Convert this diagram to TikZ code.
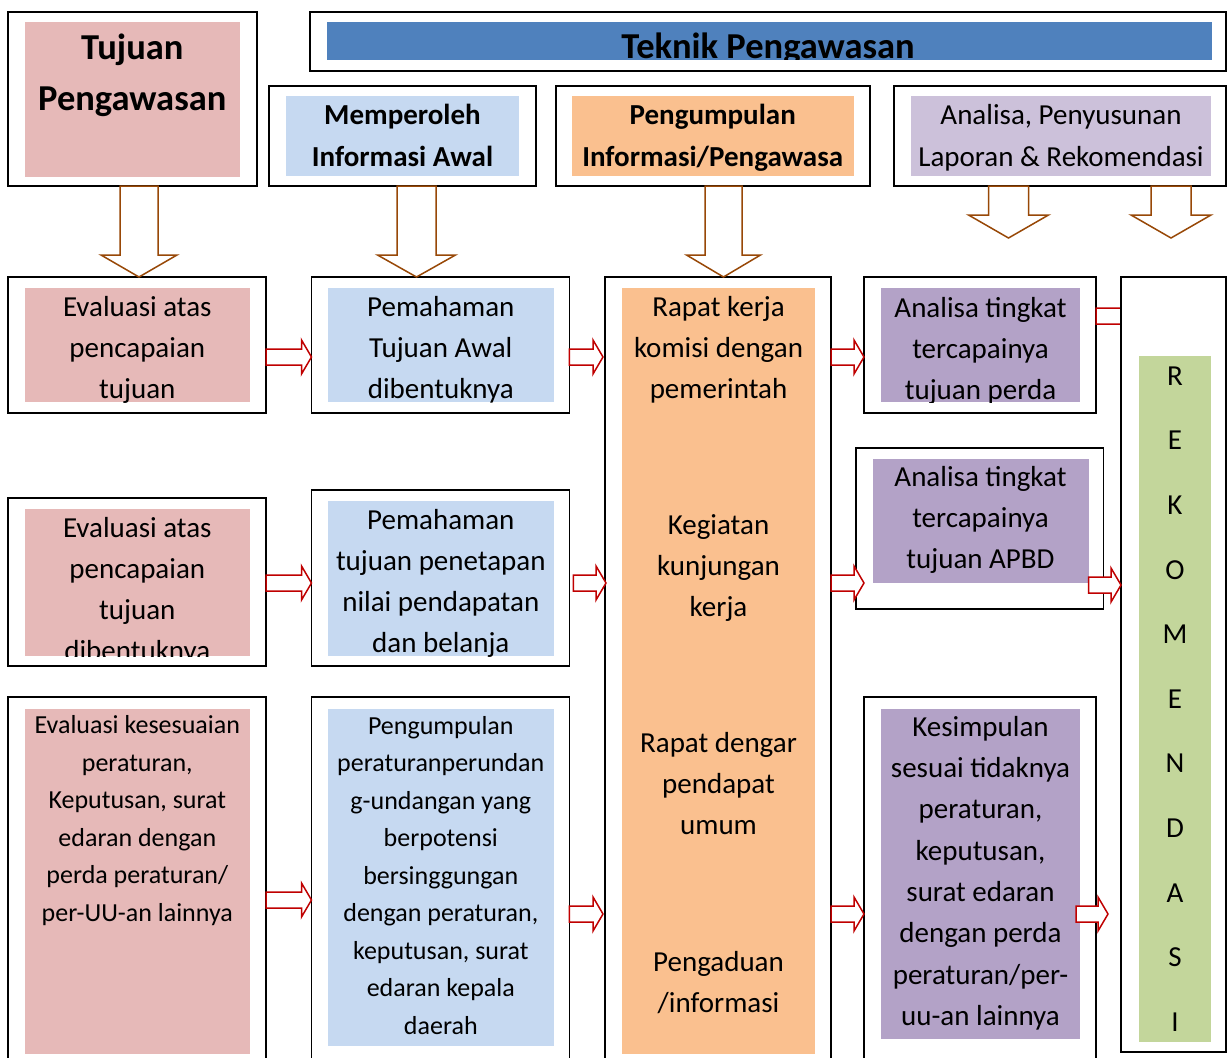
\documentclass[tikz,border=0pt]{standalone}
\usepackage{fontspec}
\setmainfont{Carlito}
\usetikzlibrary{calc}

\definecolor{pinkc}{HTML}{E6B9B8}
\definecolor{bluec}{HTML}{C6D9F1}
\definecolor{orangec}{HTML}{FAC08F}
\definecolor{lavc}{HTML}{CCC1DA}
\definecolor{purc}{HTML}{B3A2C7}
\definecolor{greenc}{HTML}{C3D69B}
\definecolor{headblue}{HTML}{4F81BD}
\definecolor{brownc}{HTML}{984807}
\definecolor{redc}{HTML}{C00000}

\tikzset{
  outerbox/.style={draw=black, line width=1.5pt, fill=white, rectangle,
    inner sep=0pt, outer sep=0pt, anchor=north west},
  fillbox/.style={draw=none, rectangle, inner sep=0pt, outer sep=0pt,
    anchor=north west},
  txt/.style={align=center, inner sep=0pt, outer sep=0pt,
    font=\fontsize{29}{41}\selectfont},
  smalltxt/.style={txt, font=\fontsize{26}{37.5}\selectfont},
  headtxt/.style={txt, font=\bfseries\fontsize{29}{42}\selectfont},
  bigtxt/.style={txt, font=\bfseries\fontsize{36.5}{51}\selectfont},
  redarrow/.style={draw=redc, fill=white, line width=1.5pt, line join=miter},
  brownarrow/.style={draw=brownc, fill=white, line width=1.5pt, line join=miter}
}

% rectangle given by its corners (x1,y1)-(x2,y2), y measured downwards
\newcommand\boxnode[6]{%
  \node[#1, minimum width={(#5-#3)*1pt}, minimum height={(#6-#4)*1pt}] (#2) at (#3,#4) {};}

% block arrow pointing right: from point, to point, centre line y
\newcommand\rarr[3]{%
  \draw[redarrow] let \p1=#1, \p2=#2 in
    (\x1,-#3pt+8pt) -- (\x2-10pt,-#3pt+8pt) -- (\x2-10pt,-#3pt+17pt) -- (\x2,-#3pt)
    -- (\x2-10pt,-#3pt-17pt) -- (\x2-10pt,-#3pt-8pt) -- (\x1,-#3pt-8pt) -- cycle;}

% block arrow pointing down: from point, to point, centre x, shaft half width, head length
\newcommand\darr[5]{%
  \draw[brownarrow] let \p1=#1, \p2=#2 in
    (#3pt-#4pt,\y1) -- (#3pt-#4pt,\y2+#5pt) -- (#3pt-2*#4pt,\y2+#5pt) -- (#3pt,\y2)
    -- (#3pt+2*#4pt,\y2+#5pt) -- (#3pt+#4pt,\y2+#5pt) -- (#3pt+#4pt,\y1) -- cycle;}

\begin{document}
\begin{tikzpicture}[x=1pt, y=-1pt]
\useasboundingbox (0,0) rectangle (1228,1057);
\clip (0,0) rectangle (1228,1057);
\fill[white] (0,0) rectangle (1228,1057);

% ---------- header row ----------
\boxnode{outerbox}{tujo}{8}{12}{257}{186}
\boxnode{fillbox, fill=pinkc}{tujf}{24.5}{22}{240}{177}
\node[bigtxt] (tujt) at (132.3,74.5) {\strut Tujuan\\Pengawasan\strut};

\boxnode{outerbox}{teko}{310}{12}{1226}{71}
\boxnode{fillbox, fill=headblue}{tekf}{327}{22}{1211.5}{60}
\begin{scope}
  \clip (tekf.south west) rectangle (tekf.north east);
  \node[bigtxt] (tekt) at (768,48.8) {\strut Teknik Pengawasan\strut};
\end{scope}

\boxnode{outerbox}{memo}{269}{86}{536}{186}
\boxnode{fillbox, fill=bluec}{memf}{286}{96}{519}{176}
\node[headtxt] (memt) at (402.5,137) {\strut Memperoleh\\Informasi Awal\strut};

\boxnode{outerbox}{pgo}{556}{86}{870}{186}
\boxnode{fillbox, fill=orangec}{pgf}{572}{96}{853.5}{176}
\node[headtxt] (pgt) at (712.7,137) {\strut Pengumpulan\\Informasi/Pengawasa\strut};

\boxnode{outerbox}{ano}{894}{86}{1226}{186}
\boxnode{fillbox, fill=lavc}{anf}{911}{96}{1211}{176}
\node[txt, font=\fontsize{29}{42}\selectfont] (ant) at (1061,137) {\strut Analisa, Penyusunan\\Laporan \& Rekomendasi\strut};

% ---------- column 1: tujuan ----------
\boxnode{outerbox}{a1o}{8}{277}{266}{413}
\boxnode{fillbox, fill=pinkc}{a1f}{24.6}{288}{250}{402}
\begin{scope}
  \clip (a1f.south west) rectangle (a1f.north east);
  \node[txt] (a1t) at (137.3,349) {\strut Evaluasi atas\\pencapaian\\tujuan\strut};
\end{scope}

\boxnode{outerbox}{a2o}{8}{498}{266}{666}
\boxnode{fillbox, fill=pinkc}{a2f}{24.6}{509}{250}{656}
\begin{scope}
  \clip (a2f.south west) rectangle (a2f.north east);
  \node[txt] (a2t) at (137.3,590.5) {\strut Evaluasi atas\\pencapaian\\tujuan\\dibentuknya\strut};
\end{scope}

\boxnode{outerbox}{a3o}{8}{697}{266}{1075}
\boxnode{fillbox, fill=pinkc}{a3f}{24.6}{709}{250}{1054}
\node[smalltxt] (a3t) at (137.3,820) {\strut Evaluasi kesesuaian\\peraturan,\\Keputusan, surat\\edaran dengan\\perda peraturan/\\per-UU-an lainnya\strut};

% ---------- column 2: informasi awal ----------
\boxnode{outerbox}{b1o}{311.5}{277}{569.4}{413}
\boxnode{fillbox, fill=bluec}{b1f}{328}{288}{553.6}{402}
\begin{scope}
  \clip (b1f.south west) rectangle (b1f.north east);
  \node[txt] (b1t) at (440.8,349) {\strut Pemahaman\\Tujuan Awal\\dibentuknya\strut};
\end{scope}

\boxnode{outerbox}{b2o}{311.5}{490}{569.4}{666}
\boxnode{fillbox, fill=bluec}{b2f}{328}{501}{553.6}{656}
\begin{scope}
  \clip (b2f.south west) rectangle (b2f.north east);
  \node[txt] (b2t) at (440.8,583) {\strut Pemahaman\\tujuan penetapan\\nilai pendapatan\\dan belanja\strut};
\end{scope}

\boxnode{outerbox}{b3o}{311.5}{697}{569.4}{1075}
\boxnode{fillbox, fill=bluec}{b3f}{328}{709}{553.6}{1046}
\node[smalltxt] (b3t) at (440.8,876.5) {\strut Pengumpulan\\peraturanperundan\\g-undangan yang\\berpotensi\\bersinggungan\\dengan peraturan,\\keputusan, surat\\edaran kepala\\daerah\strut};

% ---------- column 3: pengumpulan informasi ----------
\boxnode{outerbox}{co}{605}{277}{831}{1075}
\boxnode{fillbox, fill=orangec}{cf}{622}{288}{815}{1054}
\node[txt] (c1t) at (718.5,349) {\strut Rapat kerja\\komisi dengan\\pemerintah\strut};
\node[txt] (c2t) at (718.5,567) {\strut Kegiatan\\kunjungan\\kerja\strut};
\node[txt] (c3t) at (718.5,785) {\strut Rapat dengar\\pendapat\\umum\strut};
\node[txt] (c4t) at (718.5,983.5) {\strut Pengaduan\\/informasi\strut};

% ---------- column 4: analisa ----------
\boxnode{outerbox}{d1o}{864}{277}{1096}{413}
\boxnode{fillbox, fill=purc}{d1f}{881}{288}{1080}{402}
\begin{scope}
  \clip (d1f.south west) rectangle (d1f.north east);
  \node[txt] (d1t) at (980.5,350) {\strut Analisa tingkat\\tercapainya\\tujuan perda\strut};
\end{scope}

\boxnode{outerbox}{d2o}{856}{448}{1103.5}{609}
\boxnode{fillbox, fill=purc}{d2f}{873}{459}{1088.5}{583}
\node[txt] (d2t) at (980.5,519) {\strut Analisa tingkat\\tercapainya\\tujuan APBD\strut};

\boxnode{outerbox}{d3o}{864}{697}{1096}{1075}
\boxnode{fillbox, fill=purc}{d3f}{881}{709}{1080}{1039}
\node[txt, font=\fontsize{29}{41.3}\selectfont] (d3t) at (980.5,872.5) {\strut Kesimpulan\\sesuai tidaknya\\peraturan,\\keputusan,\\surat edaran\\dengan perda\\peraturan/per-\\uu-an lainnya\strut};

% arrow into the recommendation box, partly hidden behind it
\rarr{(d1o.east)}{([xshift=25pt]d1o.east -| 1121,0)}{316}

% ---------- column 5: rekomendasi ----------
\boxnode{outerbox}{eo}{1121}{277}{1226}{1052}
\boxnode{fillbox, fill=greenc}{ef}{1139}{356}{1211}{1042}
\node[txt, font=\fontsize{29}{64.6}\selectfont] (et) at (1175,695.4) {\strut R\\E\\K\\O\\M\\E\\N\\D\\A\\S\\I\strut};

% ---------- downward arrows ----------
\darr{(tujo.south)}{(a1o.north)}{139}{19}{22}
\darr{(memo.south)}{(b1o.north)}{416.5}{19.5}{22}
\darr{(pgo.south)}{(co.north)}{723.5}{18.5}{22}
\darr{(ano.south)}{([yshift=39pt]d1o.north)}{1008.5}{20}{23}
\darr{(ano.south)}{([yshift=39pt]d1o.north)}{1171}{20}{23}

% ---------- rightward arrows ----------
\rarr{(a1o.east)}{(b1o.west)}{357}
\rarr{(a2o.east)}{(b2o.west)}{583}
\rarr{(a3o.east)}{(b3o.west)}{900}
\rarr{(b1o.east)}{([xshift=-2pt]co.west)}{357}
\rarr{([xshift=4pt]b2o.east)}{([xshift=1pt]co.west)}{583}
\rarr{(b3o.east)}{([xshift=-2pt]co.west)}{914}
\rarr{(co.east)}{(d1o.west)}{357}
\rarr{(co.east)}{([xshift=8pt]d2o.west)}{583}
\rarr{(co.east)}{(d3o.west)}{914}
\rarr{(d2f.east)}{(eo.west)}{585}
\rarr{([xshift=-4pt]d3f.east)}{([xshift=-13pt]eo.west)}{914}
\end{tikzpicture}
\end{document}
